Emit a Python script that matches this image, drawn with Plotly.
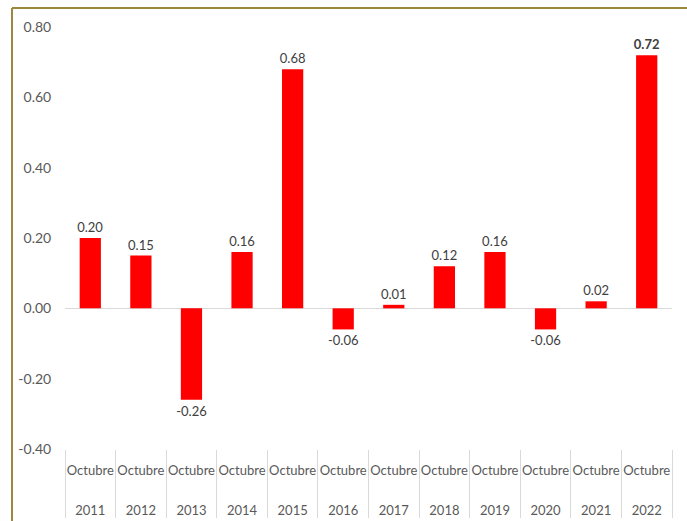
import plotly.graph_objects as go

years = ["2011", "2012", "2013", "2014", "2015", "2016", "2017", "2018", "2019", "2020", "2021", "2022"]
months = ["Octubre"] * 12
values = [0.20, 0.15, -0.26, 0.16, 0.68, -0.06, 0.01, 0.12, 0.16, -0.06, 0.02, 0.72]
labels = [f"{v:.2f}" for v in values]
labels[-1] = "<b>" + labels[-1] + "</b>"
label_sizes = [13] * 11 + [17]
tick_vals = [0.80, 0.60, 0.40, 0.20, 0.00, -0.20, -0.40]
tick_text = [f"{v:.2f}" for v in tick_vals]

FONT = "Lato"
GRAY = "#595959"

fig = go.Figure(
    go.Bar(
        x=[["<br><br>" + y for y in years], months],
        y=values,
        marker=dict(color="#FF0000", line=dict(width=0)),
        text=labels,
        textposition="outside",
        cliponaxis=False,
        constraintext="none",
        textfont=dict(family=FONT, size=label_sizes, color="#404040"),
    )
)

fig.update_layout(
    width=687,
    height=521,
    margin=dict(l=65, r=15, t=27, b=72, autoexpand=False),
    paper_bgcolor="white",
    plot_bgcolor="white",
    showlegend=False,
    bargap=0.58,
    uniformtext=dict(minsize=13, mode="show"),
    font=dict(family=FONT, size=13, color=GRAY),
    xaxis=dict(
        type="multicategory",
        automargin=False,
        showdividers=True,
        dividercolor="#d9d9d9",
        dividerwidth=1,
        showgrid=False,
        showline=False,
        ticks="",
        ticklabelstandoff=12,
        tickangle=0,
        tickfont=dict(family=FONT, size=13, color=GRAY),
    ),
    yaxis=dict(
        automargin=False,
        range=[-0.40, 0.80],
        tickvals=tick_vals,
        ticktext=tick_text,
        showgrid=False,
        zeroline=True,
        zerolinecolor="#d9d9d9",
        zerolinewidth=1,
        showline=False,
        ticks="outside",
        ticklen=10,
        tickcolor="rgba(0,0,0,0)",
        tickfont=dict(family=FONT, size=14, color=GRAY),
    ),
    shapes=[
        dict(type="line", xref="paper", yref="paper", layer="above",
             x0=(12 - 65) / 607, x1=1.05, y0=(449 - 8) / 422, y1=(449 - 8) / 422,
             line=dict(color="#9C8A3C", width=2)),
        dict(type="line", xref="paper", yref="paper", layer="above",
             x0=(12 - 65) / 607, x1=(12 - 65) / 607, y0=(449 - 8) / 422, y1=-0.2,
             line=dict(color="#9C8A3C", width=2)),
    ],
)

fig.write_html("out.html", config={"displayModeBar": False},
               post_script="document.body.style.margin='0';")
